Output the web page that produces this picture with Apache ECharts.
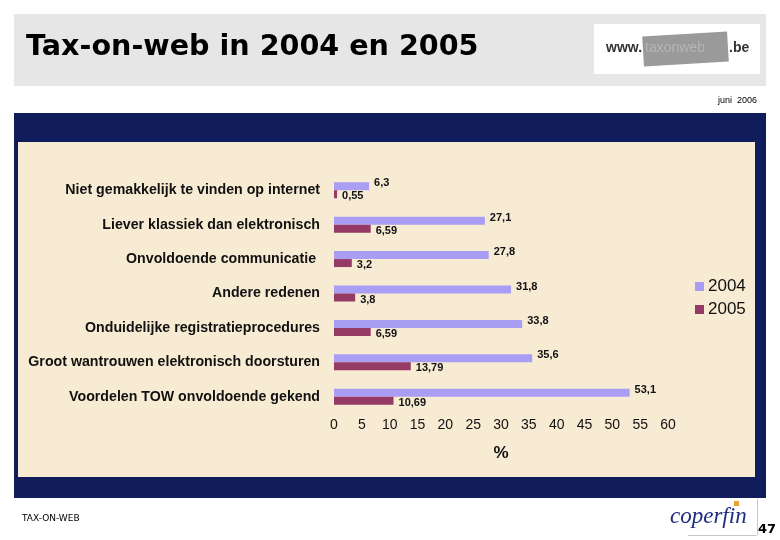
<!DOCTYPE html>
<html>
<head>
<meta charset="utf-8">
<script src="https://cdn.jsdelivr.net/npm/echarts@6/dist/echarts.min.js"></script>
<style>
  html, body { margin: 0; padding: 0; background: #fff; }
  #chart { width: 780px; height: 540px; }
</style>
</head>
<body>
<div id="chart"></div>
<script>
const categories = [
  "Niet gemakkelijk te vinden op internet",
  "Liever klassiek dan elektronisch",
  "Onvoldoende communicatie ",
  "Andere redenen",
  "Onduidelijke registratieprocedures",
  "Groot wantrouwen elektronisch doorsturen",
  "Voordelen TOW onvoldoende gekend"
];
const values2004 = [6.3, 27.1, 27.8, 31.8, 33.8, 35.6, 53.1];
const values2005 = [0.55, 6.59, 3.2, 3.8, 6.59, 13.79, 10.69];
const seriesNames = ["2004", "2005"];
const tickLabels = ["0", "5", "10", "15", "20", "25", "30", "35", "40", "45", "50", "55", "60"];

const comma = (p) => String(p.value).replace(".", ",");
const chart = echarts.init(document.getElementById("chart"), null, { renderer: "canvas" });

const option = {
  animation: false,
  backgroundColor: "#ffffff",
  textStyle: { fontFamily: "Liberation Sans, Arial, sans-serif" },
  graphic: [
    // title bar
    { type: "rect", z: -10, shape: { x: 14, y: 14, width: 752, height: 72 }, style: { fill: "#e6e6e6" } },
    { type: "text", z: -9, left: 26, top: 33,
      style: { text: "Tax-on-web in 2004 en 2005", fill: "#000", font: "bold 28.6px 'DejaVu Sans', Verdana, sans-serif" } },
    // taxonweb logo
    { type: "rect", z: -9, shape: { x: 594, y: 24, width: 166, height: 50 }, style: { fill: "#ffffff" } },
    { type: "rect", z: -8, shape: { x: 643, y: 34, width: 85, height: 30 }, rotation: 0.06, originX: 685, originY: 49,
      style: { fill: "#9a9a9a" } },
    { type: "text", z: -7, left: 606, top: 41,
      style: { text: "www.", fill: "#333", font: "bold 14px 'Liberation Sans', Arial, sans-serif" } },
    { type: "text", z: -7, left: 645, top: 41,
      style: { text: "taxonweb", fill: "#b5b5b5", font: "14px 'Liberation Sans', Arial, sans-serif" } },
    { type: "text", z: -7, left: 729, top: 41,
      style: { text: ".be", fill: "#333", font: "bold 14px 'Liberation Sans', Arial, sans-serif" } },
    { type: "text", z: -9, right: 23, top: 96,
      style: { text: "juni  2006", fill: "#000", font: "9px 'Liberation Sans Narrow', 'Liberation Sans', sans-serif" } },
    // frame
    { type: "rect", z: -10, shape: { x: 14, y: 113, width: 752, height: 385 }, style: { fill: "#101c5c" } },
    { type: "rect", z: -9, shape: { x: 18, y: 142, width: 737, height: 335 }, style: { fill: "#f7ebd3" } },
    // footer
    { type: "text", z: -9, left: 22, top: 514,
      style: { text: "TAX-ON-WEB", fill: "#000", font: "9px 'DejaVu Sans', Verdana, sans-serif" } },
    { type: "line", z: -9, shape: { x1: 757.5, y1: 499, x2: 757.5, y2: 535 }, style: { stroke: "#c8c8c8", lineWidth: 1 } },
    { type: "line", z: -9, shape: { x1: 688, y1: 535.5, x2: 757, y2: 535.5 }, style: { stroke: "#c8c8c8", lineWidth: 1 } },
    { type: "text", z: -8, left: 670, top: 505,
      style: { text: "coperfin", fill: "#1d2d80", font: "italic 23px 'Liberation Serif', 'DejaVu Serif', serif" } },
    { type: "rect", z: -7, shape: { x: 734, y: 501, width: 5, height: 5 }, style: { fill: "#f0a030" } },
    { type: "text", z: -8, left: 758, top: 523,
      style: { text: "47", fill: "#000", font: "bold 13px 'DejaVu Sans', sans-serif" } }
  ],
  legend: {
    data: seriesNames,
    orient: "vertical",
    left: 690,
    top: 273,
    itemWidth: 9,
    itemHeight: 9,
    itemGap: 6,
    icon: "rect",
    textStyle: { fontSize: 17, color: "#111", padding: [0, 0, 0, -1] }
  },
  grid: { left: 334, right: 112, top: 173, bottom: 126, containLabel: false },
  xAxis: {
    type: "value",
    min: 0,
    max: 60,
    interval: 5,
    axisLine: { show: false },
    axisTick: { show: false },
    splitLine: { show: false },
    axisLabel: {
      margin: 4,
      fontSize: 14,
      color: "#111",
      formatter: (v) => tickLabels[Math.round(v / 5)]
    },
    name: "%",
    nameLocation: "middle",
    nameGap: 31,
    nameTextStyle: { fontSize: 17, fontWeight: "bold", color: "#111" }
  },
  yAxis: {
    type: "category",
    data: categories,
    inverse: true,
    axisLine: { show: false },
    axisTick: { show: false },
    axisLabel: { margin: 14, fontSize: 14.2, fontWeight: "bold", color: "#111" }
  },
  series: [
    {
      name: seriesNames[0],
      type: "bar",
      data: values2004,
      barWidth: 8,
      barGap: "0%",
      itemStyle: { color: "#a99ef3" },
      label: { show: true, position: "right", distance: 5, offset: [0, -3],
        fontSize: 11, fontWeight: "bold", color: "#111", formatter: comma }
    },
    {
      name: seriesNames[1],
      type: "bar",
      data: values2005,
      barWidth: 8,
      itemStyle: { color: "#943a65" },
      label: { show: true, position: "right", distance: 5, offset: [0, 2],
        fontSize: 11, fontWeight: "bold", color: "#111", formatter: comma }
    }
  ]
};

chart.setOption(option);
</script>
</body>
</html>
